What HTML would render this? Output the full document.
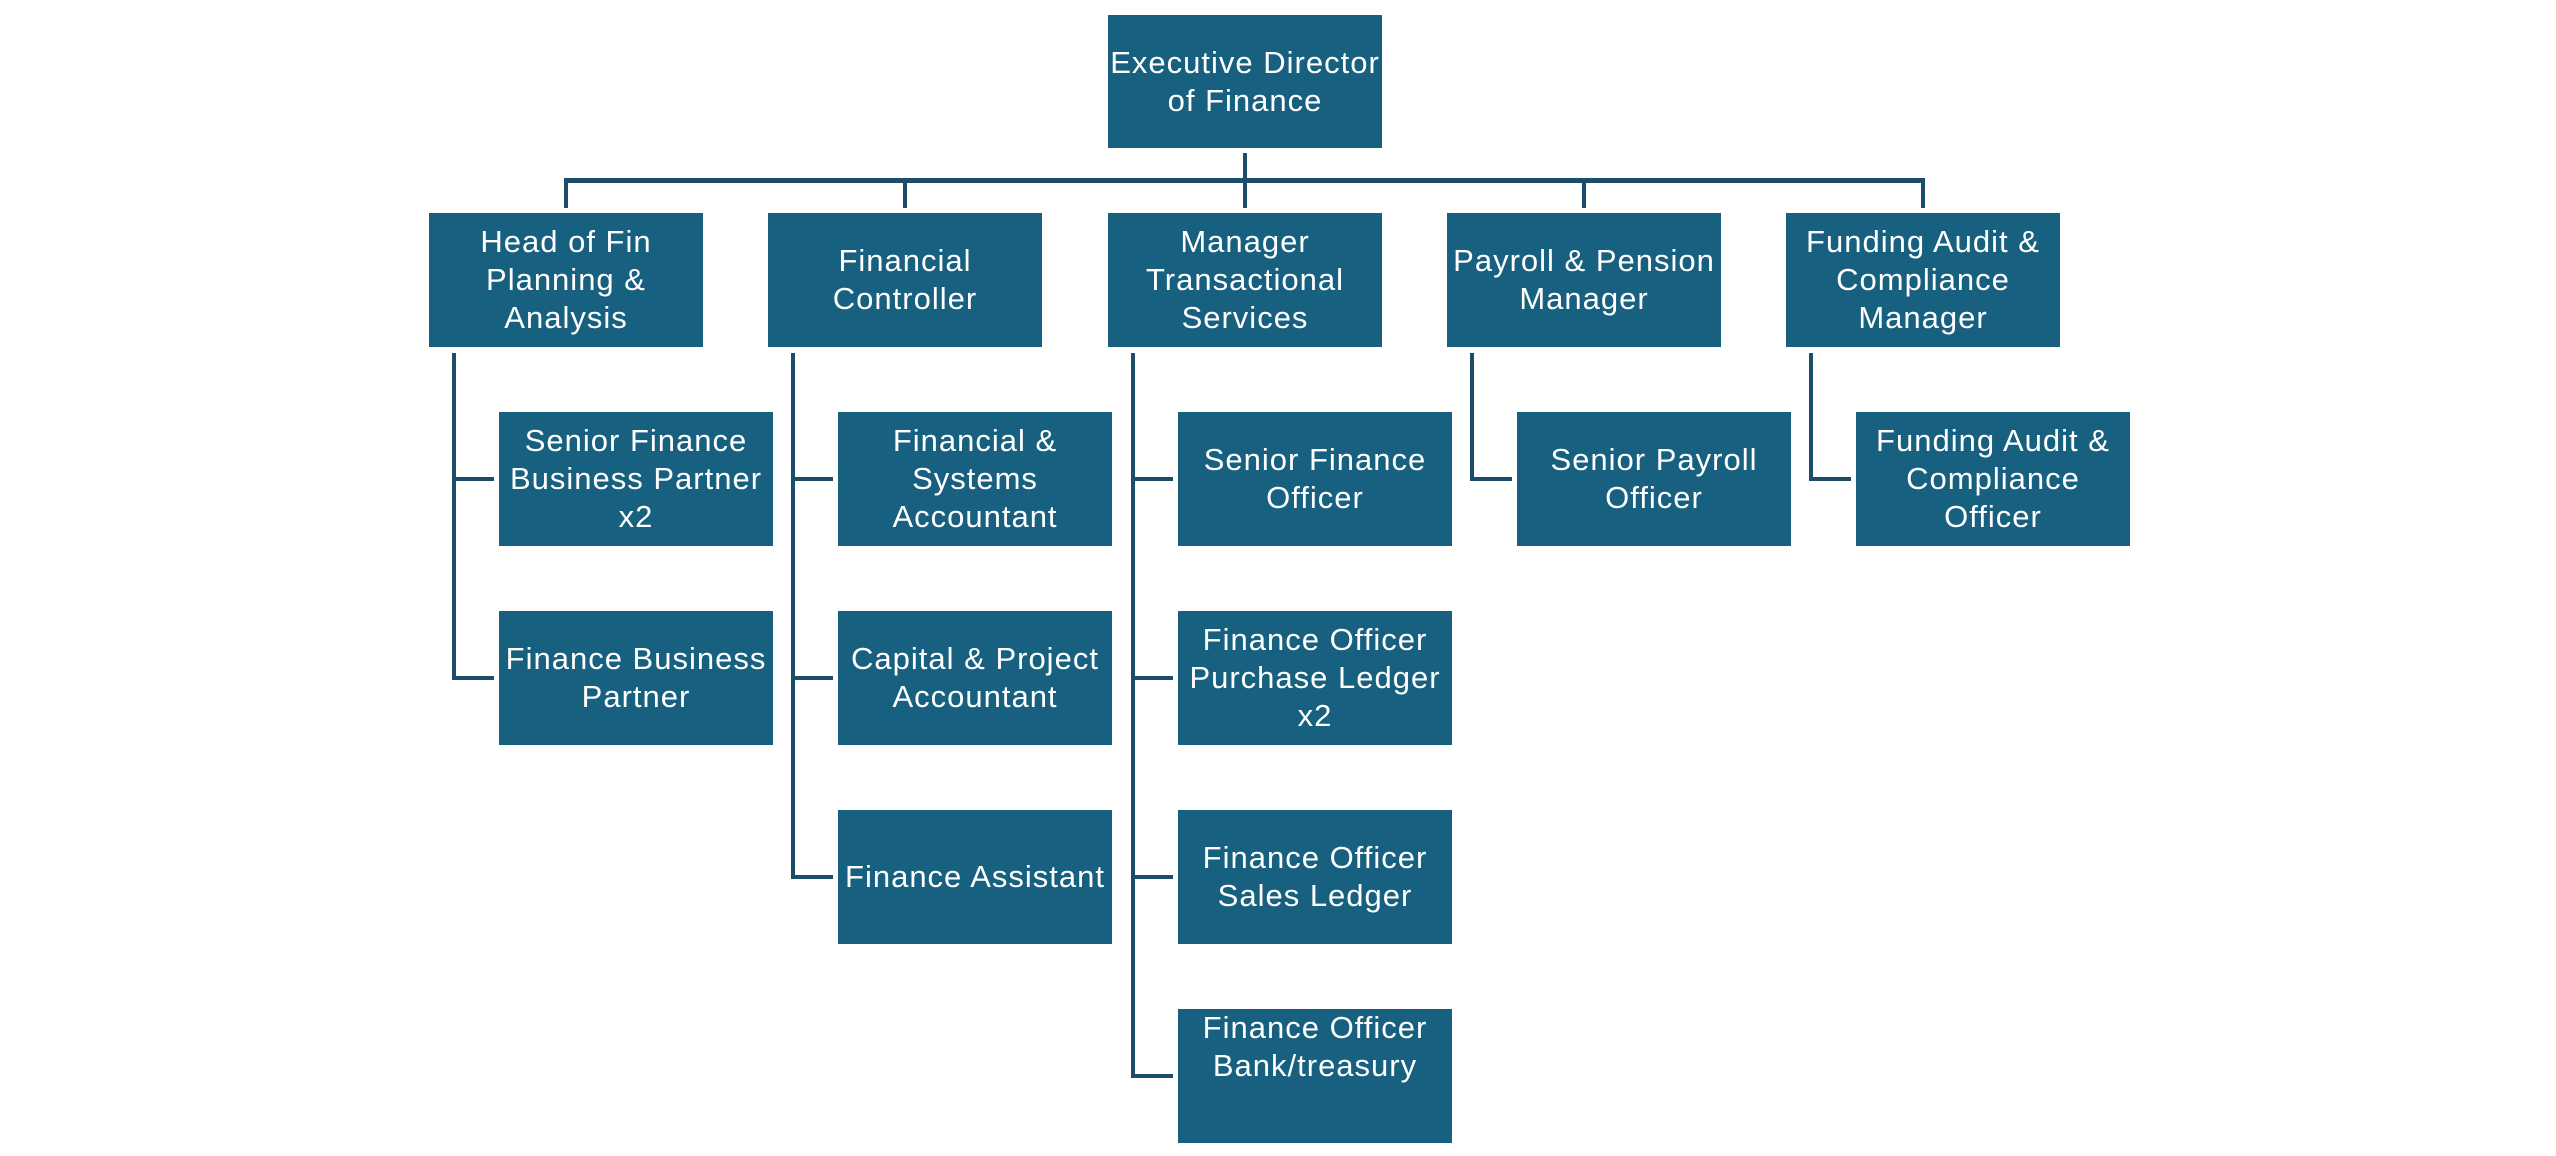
<!DOCTYPE html>
<html>
<head>
<meta charset="utf-8">
<style>
  html, body { margin:0; padding:0; background:#ffffff; }
  body { width:2556px; height:1156px; position:relative; overflow:hidden; }
  .b {
    position:absolute; width:274px; height:134px; background:#17607f;
    color:#ffffff; font-family:"Liberation Sans", Arial, sans-serif;
    font-size:31px; line-height:38px; letter-spacing:1px;
    display:flex; flex-direction:column; justify-content:center; align-items:center;
    text-align:center; white-space:nowrap;
  }
  .b.top { justify-content:flex-start; }
  .l { position:absolute; background:#1c4e6c; }
</style>
</head>
<body>

<!-- Executive -->
<div class="b" style="left:1108px; top:15px; height:133px;"><div>Executive Director</div><div>of Finance</div></div>

<!-- exec down line -->
<div class="l" style="left:1243px; top:153px; width:4px; height:55px;"></div>
<!-- bus -->
<div class="l" style="left:564px; top:178px; width:1361px; height:5px;"></div>
<!-- drops -->
<div class="l" style="left:564px; top:178px; width:4px; height:30px;"></div>
<div class="l" style="left:903px; top:178px; width:4px; height:30px;"></div>
<div class="l" style="left:1582px; top:178px; width:4px; height:30px;"></div>
<div class="l" style="left:1921px; top:178px; width:4px; height:30px;"></div>

<!-- Level 2 -->
<div class="b" style="left:429px; top:213px;"><div>Head of Fin</div><div>Planning &amp;</div><div>Analysis</div></div>
<div class="b" style="left:768px; top:213px;"><div>Financial</div><div>Controller</div></div>
<div class="b" style="left:1108px; top:213px;"><div>Manager</div><div>Transactional</div><div>Services</div></div>
<div class="b" style="left:1447px; top:213px;"><div>Payroll &amp; Pension</div><div>Manager</div></div>
<div class="b" style="left:1786px; top:213px;"><div>Funding Audit &amp;</div><div>Compliance</div><div>Manager</div></div>

<!-- Head children connectors -->
<div class="l" style="left:452px; top:353px; width:4px; height:327px;"></div>
<div class="l" style="left:452px; top:477px; width:42px; height:4px;"></div>
<div class="l" style="left:452px; top:676px; width:42px; height:4px;"></div>
<!-- FC children connectors -->
<div class="l" style="left:791px; top:353px; width:4px; height:526px;"></div>
<div class="l" style="left:791px; top:477px; width:42px; height:4px;"></div>
<div class="l" style="left:791px; top:676px; width:42px; height:4px;"></div>
<div class="l" style="left:791px; top:875px; width:42px; height:4px;"></div>
<!-- Mgr children connectors -->
<div class="l" style="left:1131px; top:353px; width:4px; height:725px;"></div>
<div class="l" style="left:1131px; top:477px; width:42px; height:4px;"></div>
<div class="l" style="left:1131px; top:676px; width:42px; height:4px;"></div>
<div class="l" style="left:1131px; top:875px; width:42px; height:4px;"></div>
<div class="l" style="left:1131px; top:1074px; width:42px; height:4px;"></div>
<!-- Payroll child connector -->
<div class="l" style="left:1470px; top:353px; width:4px; height:128px;"></div>
<div class="l" style="left:1470px; top:477px; width:42px; height:4px;"></div>
<!-- Funding child connector -->
<div class="l" style="left:1809px; top:353px; width:4px; height:128px;"></div>
<div class="l" style="left:1809px; top:477px; width:42px; height:4px;"></div>

<!-- Head children -->
<div class="b" style="left:499px; top:412px;"><div>Senior Finance</div><div>Business Partner</div><div>x2</div></div>
<div class="b" style="left:499px; top:611px;"><div>Finance Business</div><div>Partner</div></div>

<!-- FC children -->
<div class="b" style="left:838px; top:412px;"><div>Financial &amp;</div><div>Systems</div><div>Accountant</div></div>
<div class="b" style="left:838px; top:611px;"><div>Capital &amp; Project</div><div>Accountant</div></div>
<div class="b" style="left:838px; top:810px;"><div>Finance Assistant</div></div>

<!-- Mgr children -->
<div class="b" style="left:1178px; top:412px;"><div>Senior Finance</div><div>Officer</div></div>
<div class="b" style="left:1178px; top:611px;"><div>Finance Officer</div><div>Purchase Ledger</div><div>x2</div></div>
<div class="b" style="left:1178px; top:810px;"><div>Finance Officer</div><div>Sales Ledger</div></div>
<div class="b top" style="left:1178px; top:1009px;"><div>Finance Officer</div><div>Bank/treasury</div></div>

<!-- Payroll child -->
<div class="b" style="left:1517px; top:412px;"><div>Senior Payroll</div><div>Officer</div></div>

<!-- Funding child -->
<div class="b" style="left:1856px; top:412px;"><div>Funding Audit &amp;</div><div>Compliance</div><div>Officer</div></div>

</body>
</html>
